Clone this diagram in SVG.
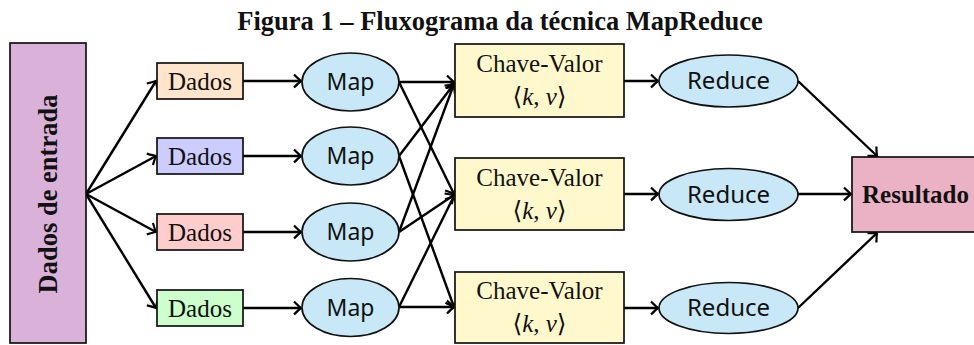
<svg xmlns="http://www.w3.org/2000/svg" width="974" height="345" viewBox="0 0 974 345">
  <style>
    .box { stroke: #111; stroke-width: 1.7; }
    .oval { fill: #C8E8F8; stroke: #111; stroke-width: 1.7; }
    .serif { font-family: "Liberation Serif", "DejaVu Serif", serif; font-size: 25px; fill: #111; }
    .bold { font-weight: bold; }
    .big { font-size: 26.5px; }
    .sans { font-family: "Noto Sans", "Open Sans", sans-serif; font-size: 23px; fill: #111; }
    .red { font-size: 24px; }
    .edge { fill: none; stroke: #000; stroke-width: 2.4; marker-end: url(#arrow); }
  </style>
  <defs>
    <marker id="arrow" markerUnits="userSpaceOnUse" markerWidth="16" markerHeight="16" viewBox="-10 -8 12 16" refX="0" refY="0" orient="auto">
      <path d="M -7 -6.5 Q -2 -1.5 0 0 Q -2 1.5 -7 6.5" fill="none" stroke="#000" stroke-width="2.2"/>
    </marker>
  </defs>

  <text class="serif bold big" x="500" y="29.5" text-anchor="middle">Figura 1 – Fluxograma da técnica MapReduce</text>

  <!-- connectors -->
  <g id="connectors">
    <!-- input fan-out -->
    <path class="edge" d="M 86 194 L 156 81"/>
    <path class="edge" d="M 86 194 L 156 156"/>
    <path class="edge" d="M 86 194 L 156 232"/>
    <path class="edge" d="M 86 194 L 156 308"/>
    <!-- Dados to Map -->
    <path class="edge" d="M 243 81 L 301 81"/>
    <path class="edge" d="M 243 156 L 301 156"/>
    <path class="edge" d="M 243 232 L 301 232"/>
    <path class="edge" d="M 243 308 L 301 308"/>
    <!-- Map to Chave-Valor -->
    <path class="edge" d="M 399 82 L 454 82"/>
    <path class="edge" d="M 399 82 L 454 194"/>
    <path class="edge" d="M 399 156 L 454 84"/>
    <path class="edge" d="M 399 156 L 454 307"/>
    <path class="edge" d="M 399 232 L 454 84"/>
    <path class="edge" d="M 399 232 L 454 195"/>
    <path class="edge" d="M 399 307 L 454 196"/>
    <path class="edge" d="M 399 307 L 454 307"/>
    <!-- Chave-Valor to Reduce -->
    <path class="edge" d="M 624 81 L 658 81"/>
    <path class="edge" d="M 624 194 L 658 194"/>
    <path class="edge" d="M 624 308 L 658 308"/>
    <!-- Reduce to Resultado -->
    <path class="edge" d="M 798 81 L 877 156"/>
    <path class="edge" d="M 798 194 L 851 194"/>
    <path class="edge" d="M 798 308 L 877 233"/>
  </g>

  <g id="entrada">
    <rect class="box" x="10" y="43" width="76" height="300" fill="#D9B1D9"/>
    <text class="serif bold big" transform="translate(57,194) rotate(-90)" text-anchor="middle">Dados de entrada</text>
  </g>

  <g id="dados1">
    <rect class="box" x="157" y="63" width="86" height="36" fill="#FFE5CC"/>
    <text class="serif" x="200" y="89.5" text-anchor="middle">Dados</text>
  </g>
  <g id="dados2">
    <rect class="box" x="157" y="138" width="86" height="36" fill="#CCCCFF"/>
    <text class="serif" x="200" y="164.5" text-anchor="middle">Dados</text>
  </g>
  <g id="dados3">
    <rect class="box" x="157" y="214" width="86" height="36" fill="#FFCCCC"/>
    <text class="serif" x="200" y="240.5" text-anchor="middle">Dados</text>
  </g>
  <g id="dados4">
    <rect class="box" x="157" y="290" width="86" height="36" fill="#CCFFCC"/>
    <text class="serif" x="200" y="316.5" text-anchor="middle">Dados</text>
  </g>

  <g id="map1">
    <ellipse class="oval" cx="350.5" cy="82" rx="48.5" ry="29"/>
    <text class="sans" x="350.5" y="90" text-anchor="middle">Map</text>
  </g>
  <g id="map2">
    <ellipse class="oval" cx="350.5" cy="156" rx="48.5" ry="29"/>
    <text class="sans" x="350.5" y="164" text-anchor="middle">Map</text>
  </g>
  <g id="map3">
    <ellipse class="oval" cx="350.5" cy="232" rx="48.5" ry="29"/>
    <text class="sans" x="350.5" y="240" text-anchor="middle">Map</text>
  </g>
  <g id="map4">
    <ellipse class="oval" cx="350.5" cy="307.5" rx="48.5" ry="29"/>
    <text class="sans" x="350.5" y="315.5" text-anchor="middle">Map</text>
  </g>

  <g id="chave1">
    <rect class="box" x="455" y="44" width="169" height="73" fill="#FFF8CC"/>
    <text class="serif" x="539.5" y="72" text-anchor="middle">Chave-Valor</text>
    <text class="serif" x="539.5" y="105" text-anchor="middle">⟨<tspan font-style="italic">k</tspan>, <tspan font-style="italic">v</tspan>⟩</text>
  </g>
  <g id="chave2">
    <rect class="box" x="455" y="158" width="169" height="72" fill="#FFF8CC"/>
    <text class="serif" x="539.5" y="185.5" text-anchor="middle">Chave-Valor</text>
    <text class="serif" x="539.5" y="218.5" text-anchor="middle">⟨<tspan font-style="italic">k</tspan>, <tspan font-style="italic">v</tspan>⟩</text>
  </g>
  <g id="chave3">
    <rect class="box" x="455" y="272" width="169" height="71" fill="#FFF8CC"/>
    <text class="serif" x="539.5" y="299" text-anchor="middle">Chave-Valor</text>
    <text class="serif" x="539.5" y="332" text-anchor="middle">⟨<tspan font-style="italic">k</tspan>, <tspan font-style="italic">v</tspan>⟩</text>
  </g>

  <g id="reduce1">
    <ellipse class="oval" cx="728.5" cy="81" rx="69.5" ry="26"/>
    <text class="sans red" x="728.5" y="89" text-anchor="middle">Reduce</text>
  </g>
  <g id="reduce2">
    <ellipse class="oval" cx="728.5" cy="194.5" rx="69.5" ry="26"/>
    <text class="sans red" x="728.5" y="202.5" text-anchor="middle">Reduce</text>
  </g>
  <g id="reduce3">
    <ellipse class="oval" cx="728.5" cy="308" rx="69.5" ry="25.5"/>
    <text class="sans red" x="728.5" y="316" text-anchor="middle">Reduce</text>
  </g>

  <g id="resultado">
    <rect class="box" x="852" y="157" width="140" height="75" fill="#EBB1C5"/>
    <text class="serif bold" x="862" y="203">Resultado</text>
  </g>
</svg>
